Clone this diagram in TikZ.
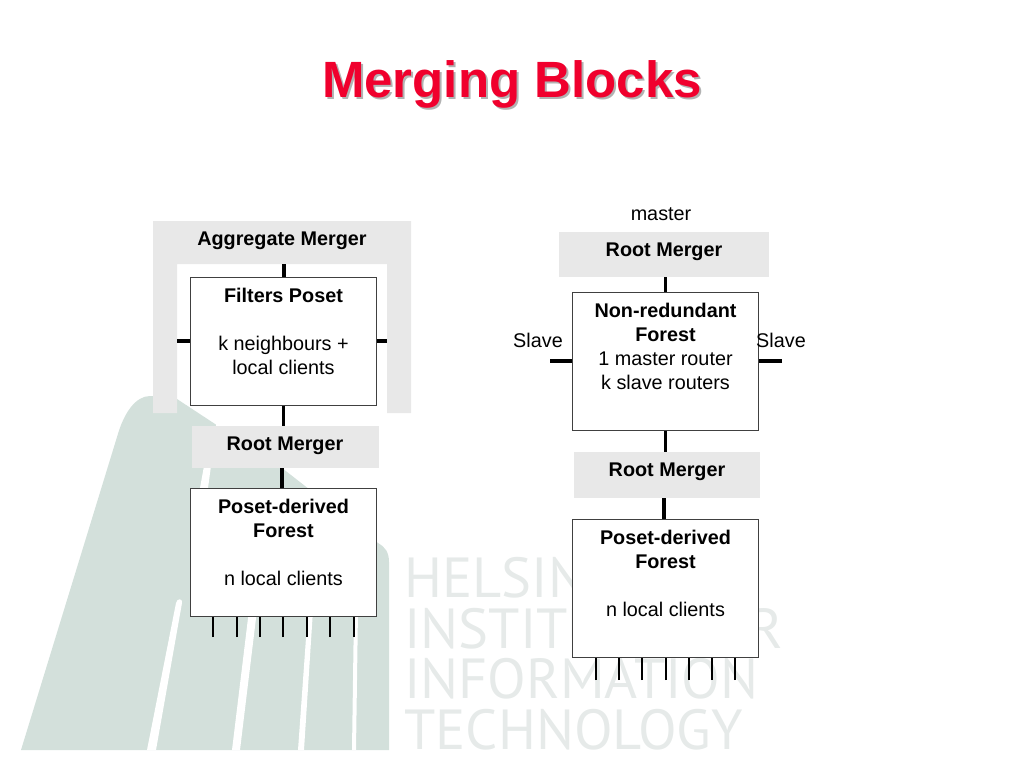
\documentclass[tikz,border=0pt]{standalone}
\usepackage{fontspec}
\setmainfont{Liberation Sans}
\newfontfamily\logofont{PT Sans}
\usetikzlibrary{positioning}
\definecolor{fanGreen}{HTML}{D3E0DB}
\definecolor{logoGrey}{HTML}{E6EAE9}
\definecolor{mergerGrey}{HTML}{E8E8E8}
\definecolor{titleRed}{HTML}{F0002D}
\tikzset{
  blockbox/.style={draw=black!75, fill=white, line width=1pt, inner sep=0pt, minimum width=186pt},
  mergerbox/.style={fill=mergerGrey, inner sep=0pt},
  blocktext/.style={inner sep=0pt, align=center, font=\fontsize{19.8}{24}\selectfont},
  mergertext/.style={blocktext, font=\bfseries\fontsize{19.8}{24}\selectfont},
  logotext/.style={inner sep=0pt, anchor=base west, text=logoGrey, font=\logofont\fontsize{56.5}{56.5}\selectfont},
  titletext/.style={inner sep=0pt, font=\bfseries\fontsize{51}{60}\selectfont},
  link/.style={line width=3.4pt},
  leg/.style={line width=2.4pt}
}
\begin{document}
\begin{tikzpicture}[x=1pt,y=-1pt]
    \useasboundingbox (0,0) rectangle (1024,768);
    % fan of the logo
    \fill[fanGreen] (21,750) -- (117,437) .. controls (124,412) and (136,396) .. (150,396)
        .. controls (160,396) and (170,396) .. (177,399) -- (282,468) -- (378,543)
        .. controls (385,547) and (389,552) .. (389,562) -- (389,750) -- cycle;
    \fill[white] (147,750) -- (176,603) .. controls (177,598) and (183,598) .. (182,603) -- (156,750) -- cycle;
    \fill[white] (232,750) -- (249,610) -- (257,610) -- (240,750) -- cycle;
    \fill[white] (298,750) -- (308,610) -- (313,610) -- (304,750) -- cycle;
    \fill[white] (352,750) -- (354,610) -- (358,610) -- (356,750) -- cycle;
    \fill[white] (200,488) -- (204,466) -- (211,466) -- (208,488) -- cycle;
    \fill[white] (216,421) -- (222,420) -- (230,428) -- (216,428) -- cycle;
    % lettering of the logo
    \node[logotext] (helsinki) at (404,597) {HELSINKI};
    \node[logotext] (institute) at (404,648) {INSTITUTE FOR};
    \node[logotext] (information) at (404,698) {INFORMATION};
    \node[logotext] (technology) at (404,749) {TECHNOLOGY};
    % title
    \node[titletext, text=black!30] (titleshadow) at (514,86) {Merging Blocks};
    \node[titletext, text=titleRed] (title) at (512,84) {Merging Blocks};
    % left column
    \fill[mergerGrey] (153,221) -- (411,221) -- (411,413) -- (387,413) -- (387,264)
        -- (177,264) -- (177,413) -- (153,413) -- cycle;
    \node[mergertext] (aggregate) at (282,241) {Aggregate Merger};
    \node[blockbox, minimum height=128pt] (filters) at (283.5,341) {};
    \node[blocktext, anchor=north] (filterstext) at (283.5,288) {\textbf{Filters Poset}\\[24pt]k neighbours +\\local clients};
    \node[mergerbox, minimum width=187pt, minimum height=42pt] (rootleft) at (285.5,447) {};
    \node[mergertext] (rootlefttext) at (285,446) {Root Merger};
    \node[blockbox, minimum height=128pt] (forestleft) at (283.5,552) {};
    \node[blocktext, anchor=north] (forestlefttext) at (283.5,499) {\textbf{Poset-derived}\\\textbf{Forest}\\[24pt]n local clients};
    \coordinate (aggbottom) at (284,264);
    \coordinate (aggleft) at (177,341);
    \coordinate (aggright) at (387,341);
    \draw[link] (aggbottom) -- (aggbottom |- filters.north);
    \draw[link] (aggleft) -- (aggleft -| filters.west);
    \draw[link] (aggright) -- (aggright -| filters.east);
    \draw[link] (filters.south) -- (filters.south |- rootleft.north);
    \coordinate (rootleftout) at (282,468);
    \draw[link] (rootleftout) -- (rootleftout |- forestleft.north);
    \foreach \i/\x in {1/213,2/237,3/260,4/283,5/307,6/330,7/354}{
        \coordinate (leftpin\i) at (\x,637);
        \draw[leg] (leftpin\i) -- (leftpin\i |- forestleft.south);
    }
    % right column
    \node[blocktext, anchor=base] (master) at (661,220) {master};
    \node[mergerbox, minimum width=210pt, minimum height=45pt] (roottop) at (664,254.5) {};
    \node[mergertext] (roottoptext) at (664,252) {Root Merger};
    \node[blockbox, minimum height=138pt] (nonred) at (665.5,361) {};
    \node[blocktext, anchor=north] (nonredtext) at (665.5,303) {\textbf{Non-redundant}\\\textbf{Forest}\\1 master router\\k slave routers};
    \node[blocktext, anchor=base] (slaveleft) at (538,347) {Slave};
    \node[blocktext, anchor=base] (slaveright) at (781,347) {Slave};
    \node[mergerbox, minimum width=186pt, minimum height=46pt] (rootright) at (667,475) {};
    \node[mergertext] (rootrighttext) at (667,472) {Root Merger};
    \node[blockbox, minimum height=138pt] (forestright) at (665.5,588) {};
    \node[blocktext, anchor=north] (forestrighttext) at (665.5,530) {\textbf{Poset-derived}\\\textbf{Forest}\\[24pt]n local clients};
    \coordinate (slaveleftend) at (550,361);
    \coordinate (slaverightend) at (782,361);
    \draw[link] (nonred.north) -- (nonred.north |- roottop.south);
    \draw[link] (slaveleftend) -- (slaveleftend -| nonred.west);
    \draw[link] (slaverightend) -- (slaverightend -| nonred.east);
    \draw[link] (nonred.south) -- (nonred.south |- rootright.north);
    \coordinate (rootrightout) at (664,498);
    \draw[link] (rootrightout) -- (rootrightout |- forestright.north);
    \foreach \i/\x in {1/596,2/619,3/642,4/666,5/689,6/712,7/735}{
        \coordinate (rightpin\i) at (\x,680);
        \draw[leg] (rightpin\i) -- (rightpin\i |- forestright.south);
    }
\end{tikzpicture}
\end{document}
